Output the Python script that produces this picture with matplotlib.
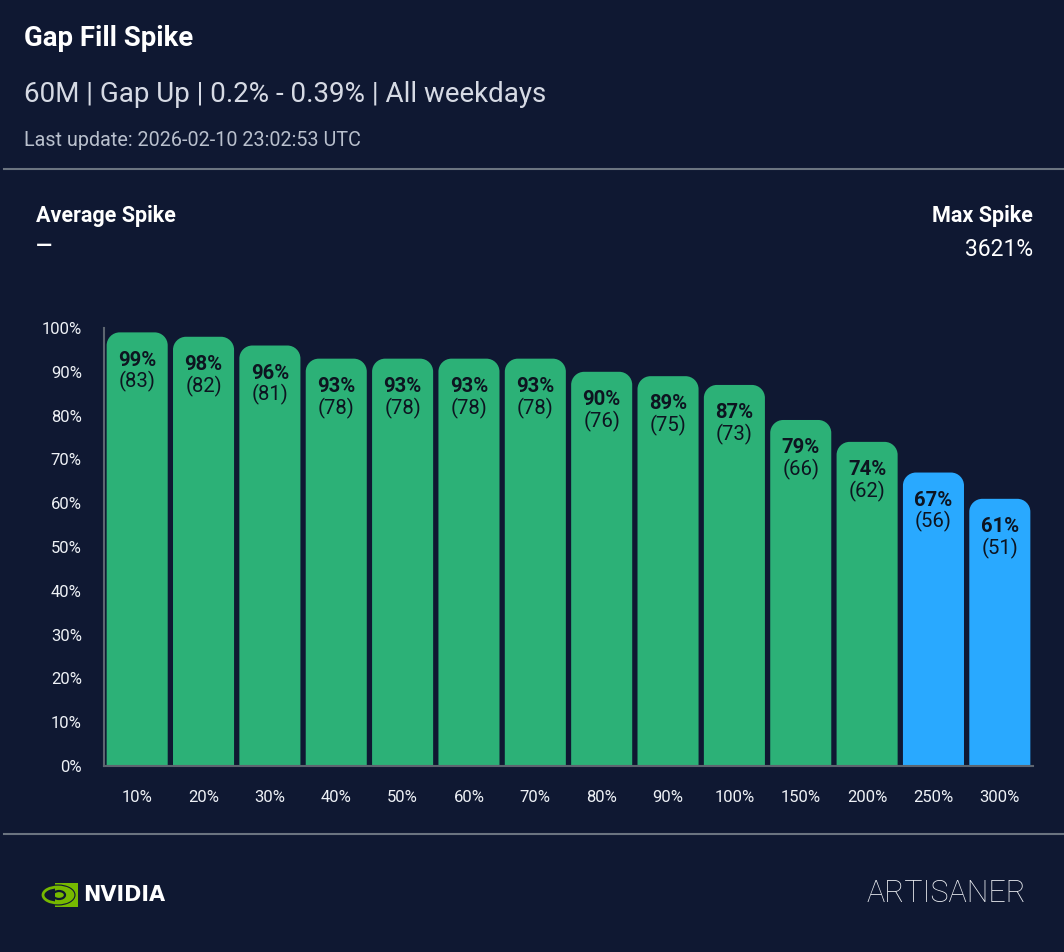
import matplotlib
matplotlib.use('Agg')
import matplotlib.pyplot as plt
from matplotlib.path import Path
from matplotlib.patches import PathPatch, Rectangle, Ellipse
import numpy as np

# ---------------- data ----------------
categories = ['10%', '20%', '30%', '40%', '50%', '60%', '70%',
              '80%', '90%', '100%', '150%', '200%', '250%', '300%']
fill_pct = [99, 98, 96, 93, 93, 93, 93, 90, 89, 87, 79, 74, 67, 61]
fill_count = [83, 82, 81, 78, 78, 78, 78, 76, 75, 73, 66, 62, 56, 51]
y_ticks = [0, 10, 20, 30, 40, 50, 60, 70, 80, 90, 100]

title = "Gap Fill Spike"
subtitle = "60M | Gap Up | 0.2% - 0.39% | All weekdays"
updated = "Last update: 2026-02-10 23:02:53 UTC"
avg_label, avg_value = "Average Spike", "\u2014"
max_label, max_value = "Max Spike", "3621%"

# ---------------- style ----------------
BG = '#0f1832'
GREEN = '#2cb177'
BLUE = '#29a9ff'
SPINE = '#5d6570'
plt.rcParams['font.family'] = ['Roboto', 'DejaVu Sans']

W, H = 1064, 952
fig = plt.figure(figsize=(W / 100, H / 100), dpi=100, facecolor=BG)


def fx(px):
    return px / W


def fy(py):
    return 1 - py / H


# header texts
fig.text(fx(24), fy(39), title, color='white', fontsize=19.8, fontweight='bold',
         va='center', ha='left')
fig.text(fx(24), fy(95), subtitle, color='#d6dae4', fontsize=20,
         va='center', ha='left')
fig.text(fx(24), fy(141), updated, color='#b9c0cd', fontsize=14.2,
         va='center', ha='left')

# separators
fig.add_artist(plt.Line2D([fx(4), 1], [fy(169), fy(169)], color='#6b7480', lw=1.5))
fig.add_artist(plt.Line2D([fx(4), 1], [fy(834), fy(834)], color='#6b7480', lw=1.5))

# stats
fig.text(fx(36), fy(216), avg_label, color='white', fontsize=15.5, fontweight='bold',
         va='center', ha='left')
fig.text(fx(36), fy(247), avg_value, color='white', fontsize=15,
         fontweight='bold', va='center', ha='left')
fig.text(fx(1033), fy(216), max_label, color='white', fontsize=15.5, fontweight='bold',
         va='center', ha='right')
fig.text(fx(1033), fy(249), max_value, color='white', fontsize=16.5,
         va='center', ha='right')

# ---------------- chart ----------------
ax = fig.add_axes([fx(104), fy(766), fx(1033) - fx(104), fy(328) - fy(766)])
ax.set_facecolor(BG)
x = np.arange(len(categories))
colors = [GREEN if p >= 70 else BLUE for p in fill_pct]
bars = ax.bar(x, fill_pct, width=0.92, color=colors)
ax.set_xlim(-0.5, len(categories) - 0.5)
ax.set_ylim(0, 100)

# rounded top corners (radius in pixels converted to data units)
r_px = 13
ax_w_px = (fx(1033) - fx(104)) * W
ax_h_px = (fy(328) - fy(766)) * H
rx = r_px / (ax_w_px / len(categories))
ry = r_px / (ax_h_px / 100.0)
k = 0.5523
for b in bars:
    x0 = b.get_x()
    x1 = x0 + b.get_width()
    h = b.get_height()
    verts = [(x0, 0), (x0, h - ry),
             (x0, h - ry + k * ry), (x0 + rx - k * rx, h), (x0 + rx, h),
             (x1 - rx, h),
             (x1 - rx + k * rx, h), (x1, h - ry + k * ry), (x1, h - ry),
             (x1, 0), (x0, 0)]
    codes = [Path.MOVETO, Path.LINETO,
             Path.CURVE4, Path.CURVE4, Path.CURVE4,
             Path.LINETO,
             Path.CURVE4, Path.CURVE4, Path.CURVE4,
             Path.LINETO, Path.CLOSEPOLY]
    ax.add_patch(PathPatch(Path(verts, codes), facecolor=b.get_facecolor(),
                           edgecolor='none', zorder=2))
    b.set_visible(False)

for xi, p, c in zip(x, fill_pct, fill_count):
    ax.annotate(f"{p}%", (xi, p), xytext=(0, -20), textcoords='offset points',
                ha='center', va='center', fontsize=14.6, fontweight='bold',
                color='#0d1420', zorder=3)
    ax.annotate(f"({c})", (xi, p), xytext=(0, -35.5), textcoords='offset points',
                ha='center', va='center', fontsize=14.6,
                color='#0d1420', zorder=3)

ax.set_xticks(x)
ax.set_xticklabels(categories)
ax.set_yticks(y_ticks)
ax.set_yticklabels([f"{t}%" for t in y_ticks])
ax.tick_params(axis='both', length=0, colors='#eef1f6', labelsize=12)
ax.tick_params(axis='y', pad=16)
ax.tick_params(axis='x', pad=17)
for s in ['top', 'right']:
    ax.spines[s].set_visible(False)
for s in ['left', 'bottom']:
    ax.spines[s].set_color(SPINE)
    ax.spines[s].set_linewidth(1.5)
    ax.spines[s].set_zorder(4)

# ---------------- footer logos ----------------
fig.add_artist(Rectangle((fx(55), fy(907)), fx(78) - fx(55), fy(883) - fy(907),
                         facecolor='#76b900', edgecolor='none'))
fig.add_artist(Ellipse((fx(58), fy(895)), fx(32), fy(0) - fy(18),
                       facecolor='none', edgecolor=BG, lw=2.2))
fig.add_artist(Ellipse((fx(58), fy(895)), fx(30), fy(0) - fy(16),
                       facecolor='none', edgecolor='#76b900', lw=2.0))
fig.add_artist(Ellipse((fx(59), fy(895)), fx(12), fy(0) - fy(8),
                       facecolor='none', edgecolor=BG, lw=1.6))
fig.text(fx(83), fy(895), "NVIDIA", color='white', fontsize=15,
         fontweight='bold', family=['DejaVu Sans'], va='center', ha='left')
fig.text(fx(1026), fy(894), "ARTISANER", color='#eef0f4', fontsize=22,
         fontweight='light', va='center', ha='right')

fig.savefig('out.png', dpi=100, facecolor=BG)
